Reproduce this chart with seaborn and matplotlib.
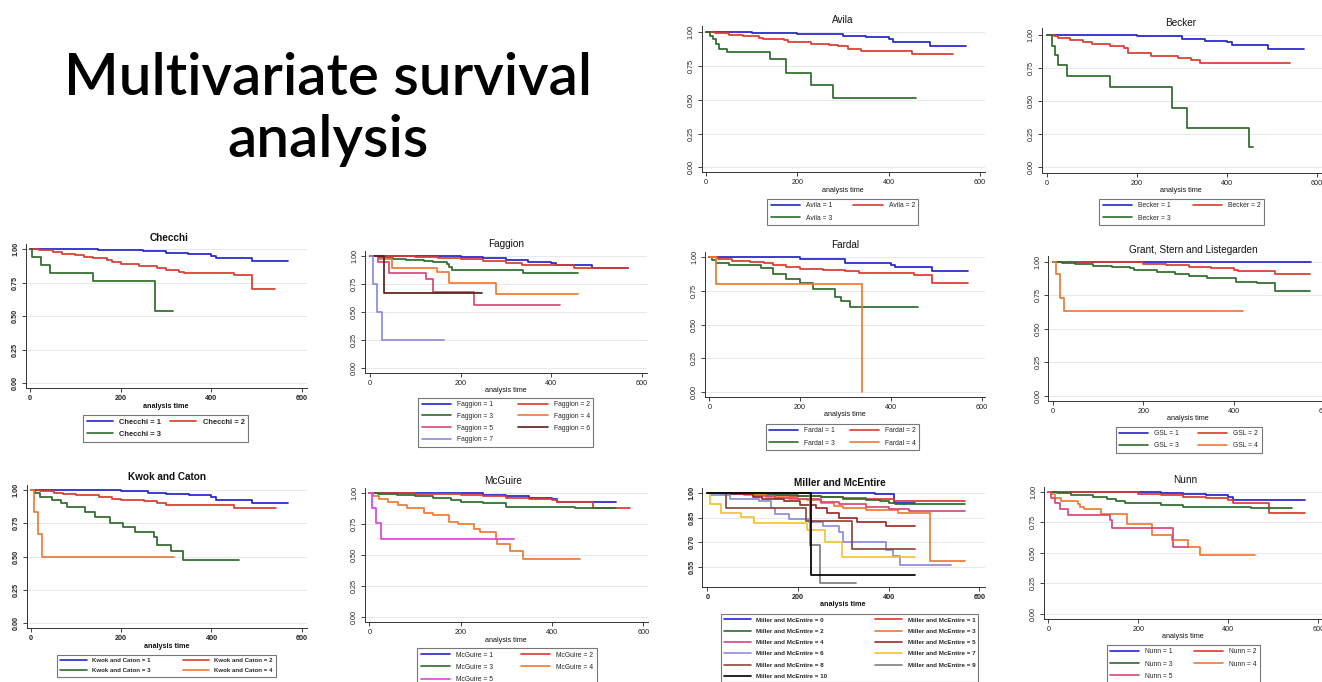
import matplotlib
matplotlib.use("Agg")
import matplotlib.pyplot as plt
from matplotlib.lines import Line2D
import pandas as pd
import seaborn as sns

# ===============================
# Kaplan-Meier step curves: (time, survival) change points,
# last pair = end of follow-up
# ===============================
avila_t = [[0, 100, 200, 250, 300, 350, 400, 410, 490, 570],
           [0, 20, 50, 80, 115, 125, 170, 180, 230, 270, 290, 310, 340, 450, 540],
           [0, 8, 15, 22, 28, 46, 140, 175, 231, 279, 460]]
avila_s = [[1, 0.997, 0.99, 0.985, 0.975, 0.965, 0.952, 0.93, 0.90, 0.90],
           [1, 0.993, 0.98, 0.97, 0.96, 0.95, 0.94, 0.925, 0.915, 0.905, 0.895, 0.875, 0.86, 0.84, 0.84],
           [1, 0.975, 0.95, 0.91, 0.88, 0.855, 0.80, 0.70, 0.61, 0.51, 0.51]]

becker_t = [[0, 200, 300, 350, 400, 410, 490, 570],
            [0, 15, 25, 50, 80, 100, 140, 170, 180, 230, 290, 320, 340, 540],
            [0, 12, 18, 25, 45, 140, 278, 310, 448, 457]]
becker_s = [[1, 0.99, 0.97, 0.955, 0.945, 0.925, 0.895, 0.895],
            [1, 0.99, 0.975, 0.96, 0.945, 0.93, 0.915, 0.90, 0.865, 0.84, 0.825, 0.81, 0.79, 0.79],
            [1, 0.92, 0.85, 0.77, 0.69, 0.605, 0.45, 0.30, 0.15, 0.15]]

checchi_t = [[0, 150, 250, 300, 350, 400, 410, 490, 570],
             [0, 20, 50, 70, 100, 120, 140, 170, 180, 200, 240, 280, 300, 330, 340, 450, 490, 540],
             [0, 5, 25, 45, 140, 277, 315]]
checchi_s = [[1, 0.995, 0.985, 0.97, 0.96, 0.95, 0.93, 0.91, 0.91],
             [1, 0.99, 0.98, 0.965, 0.955, 0.94, 0.93, 0.915, 0.90, 0.89, 0.875, 0.86, 0.845, 0.83, 0.82, 0.81, 0.70, 0.70],
             [1, 0.94, 0.88, 0.82, 0.76, 0.54, 0.54]]

faggion_t = [[0, 200, 250, 300, 350, 400, 410, 490, 570],
             [0, 100, 150, 200, 250, 300, 335, 450, 570],
             [0, 20, 50, 80, 120, 140, 170, 175, 180, 338, 460],
             [0, 18, 48, 147, 175, 278, 460],
             [0, 17, 43, 123, 140, 230, 420],
             [0, 31, 247],
             [0, 7, 16, 26, 164]]
faggion_s = [[1, 0.99, 0.98, 0.965, 0.95, 0.94, 0.92, 0.895, 0.895],
             [1, 0.995, 0.985, 0.97, 0.955, 0.935, 0.92, 0.89, 0.89],
             [1, 0.985, 0.975, 0.965, 0.955, 0.945, 0.925, 0.90, 0.875, 0.85, 0.85],
             [1, 0.97, 0.895, 0.86, 0.755, 0.66, 0.66],
             [1, 0.95, 0.85, 0.79, 0.68, 0.565, 0.565],
             [1, 0.665, 0.665],
             [1, 0.75, 0.50, 0.25, 0.25]]

fardal_t = [[0, 200, 300, 400, 410, 490, 570],
            [0, 20, 50, 90, 120, 140, 170, 200, 250, 300, 330, 450, 490, 570],
            [0, 7, 15, 44, 114, 141, 170, 200, 229, 277, 291, 310, 460],
            [0, 14, 337]]
fardal_s = [[1, 0.985, 0.96, 0.945, 0.925, 0.90, 0.90],
            [1, 0.99, 0.975, 0.965, 0.955, 0.94, 0.93, 0.915, 0.905, 0.895, 0.885, 0.87, 0.81, 0.81],
            [1, 0.98, 0.96, 0.94, 0.918, 0.876, 0.836, 0.806, 0.767, 0.707, 0.675, 0.633, 0.633],
            [1, 0.80, 0.0]]

gsl_t = [[0, 570],
         [0, 100, 200, 250, 300, 350, 400, 410, 490, 568],
         [0, 20, 50, 90, 130, 170, 180, 230, 270, 300, 340, 405, 450, 490, 568],
         [0, 7, 16, 25, 420]]
gsl_s = [[1, 1],
         [1, 0.995, 0.985, 0.975, 0.96, 0.95, 0.94, 0.93, 0.905, 0.905],
         [1, 0.99, 0.98, 0.97, 0.96, 0.95, 0.935, 0.925, 0.91, 0.895, 0.876, 0.85, 0.843, 0.784, 0.784],
         [1, 0.905, 0.726, 0.634, 0.634]]

kwok_t = [[0, 200, 260, 300, 350, 400, 410, 490, 570],
          [0, 20, 50, 70, 100, 150, 180, 200, 250, 280, 300, 450, 542],
          [0, 9, 20, 46, 66, 79, 120, 142, 175, 203, 230, 273, 280, 310, 338, 461],
          [0, 6, 16, 25, 317]]
kwok_s = [[1, 0.99, 0.98, 0.97, 0.96, 0.95, 0.925, 0.90, 0.90],
          [1, 0.99, 0.98, 0.97, 0.96, 0.95, 0.935, 0.925, 0.915, 0.905, 0.887, 0.867, 0.867],
          [1, 0.975, 0.95, 0.925, 0.90, 0.875, 0.837, 0.80, 0.75, 0.725, 0.683, 0.65, 0.588, 0.543, 0.475, 0.475],
          [1, 0.833, 0.668, 0.50, 0.50]]

mcguire_t = [[0, 200, 250, 300, 350, 400, 410, 541],
             [0, 100, 200, 250, 300, 350, 400, 410, 490, 571],
             [0, 20, 60, 100, 140, 180, 200, 250, 300, 450, 541],
             [0, 9, 22, 42, 63, 82, 120, 140, 175, 195, 230, 242, 277, 279, 308, 337, 461],
             [0, 7, 15, 26, 317]]
mcguire_s = [[1, 0.995, 0.985, 0.975, 0.96, 0.95, 0.922, 0.922],
             [1, 0.99, 0.98, 0.97, 0.96, 0.95, 0.94, 0.925, 0.874, 0.874],
             [1, 0.99, 0.98, 0.97, 0.955, 0.94, 0.925, 0.915, 0.887, 0.874, 0.874],
             [1, 0.973, 0.946, 0.927, 0.90, 0.874, 0.84, 0.82, 0.766, 0.745, 0.704, 0.68, 0.626, 0.583, 0.532, 0.465, 0.465],
             [1, 0.874, 0.753, 0.624, 0.624]]

miller_t = [[0, 330, 370, 400, 412, 458],
            [0, 30, 80, 130, 180, 250, 300, 350, 400, 412, 568],
            [0, 50, 100, 150, 200, 250, 300, 350, 380, 400, 415, 568],
            [0, 30, 80, 130, 180, 220, 250, 280, 300, 350, 420, 492, 568],
            [0, 30, 100, 150, 200, 250, 290, 350, 400, 445, 568],
            [0, 50, 100, 120, 170, 205, 240, 265, 290, 330, 395, 458],
            [0, 7, 50, 115, 140, 150, 180, 225, 255, 290, 300, 395, 410, 425, 538],
            [0, 5, 30, 75, 102, 220, 260, 298, 458],
            [0, 42, 217, 320, 458],
            [0, 226, 249, 328],
            [0, 229, 458]]
miller_s = [[1, 0.997, 0.993, 0.99, 0.94, 0.94],
            [1, 0.995, 0.99, 0.985, 0.98, 0.975, 0.97, 0.965, 0.96, 0.952, 0.952],
            [1, 0.995, 0.99, 0.985, 0.98, 0.975, 0.965, 0.955, 0.948, 0.94, 0.93, 0.93],
            [1, 0.995, 0.985, 0.975, 0.965, 0.955, 0.94, 0.92, 0.905, 0.895, 0.875, 0.585, 0.585],
            [1, 0.99, 0.98, 0.97, 0.96, 0.945, 0.93, 0.915, 0.90, 0.89, 0.89],
            [1, 0.99, 0.975, 0.965, 0.95, 0.925, 0.905, 0.88, 0.85, 0.825, 0.80, 0.80],
            [1, 0.985, 0.965, 0.95, 0.91, 0.87, 0.84, 0.825, 0.80, 0.76, 0.70, 0.655, 0.62, 0.562, 0.562],
            [1, 0.93, 0.875, 0.855, 0.815, 0.772, 0.70, 0.61, 0.61],
            [1, 0.908, 0.828, 0.658, 0.658],
            [1, 0.685, 0.458, 0.458],
            [1, 0.505, 0.505]]

nunn_t = [[0, 200, 250, 300, 350, 400, 410, 570],
          [0, 100, 200, 250, 300, 350, 400, 410, 490, 570],
          [0, 20, 50, 100, 130, 150, 170, 250, 300, 450, 541],
          [0, 7, 15, 28, 65, 70, 80, 118, 174, 230, 274, 311, 337, 459],
          [0, 7, 15, 26, 44, 137, 142, 278, 311]]
nunn_s = [[1, 0.995, 0.99, 0.98, 0.97, 0.96, 0.932, 0.932],
          [1, 0.995, 0.985, 0.97, 0.955, 0.945, 0.932, 0.91, 0.823, 0.823],
          [1, 0.99, 0.97, 0.955, 0.94, 0.925, 0.91, 0.89, 0.877, 0.864, 0.864],
          [1, 0.978, 0.945, 0.924, 0.896, 0.877, 0.855, 0.815, 0.733, 0.65, 0.605, 0.55, 0.482, 0.482],
          [1, 0.945, 0.905, 0.855, 0.81, 0.77, 0.70, 0.55, 0.55]]

# group codes shown in the legends
groups_3 = ["1", "2", "3"]
groups_4 = ["1", "2", "3", "4"]
groups_5 = ["1", "2", "3", "4", "5"]
groups_7 = ["1", "2", "3", "4", "5", "6", "7"]
groups_miller = [str(i) for i in range(11)]

# ===============================
# Stata-like colours
# ===============================
BLUE, RED, GREEN, ORANGE = "#2424CC", "#D93A30", "#2F6B2C", "#EE7A33"
PINK, LAVENDER, DKMAROON = "#D9477B", "#8B8BDA", "#5A1E1E"
MAGENTA, MAROON, YELLOW = "#DE44DE", "#9B2B2B", "#F2C232"
BROWN, GRAY, BLACK = "#8C4A3A", "#808080", "#000000"

W, H = 1322, 682
sns.set_theme(style="white")
plt.rcParams["font.family"] = ["Liberation Sans", "DejaVu Sans"]

fig = plt.figure(figsize=(W / 100, H / 100), dpi=100)
fig.patch.set_facecolor("white")

# panel layout in pixels: axes box (l, t, r, b), x pixel of t=0 / t=600,
# two y references (pixel, value), title / xlabel centres, legend box
panels = [
    dict(title="Avila", lab="Avila", t=avila_t, s=avila_s, g=groups_3, c=[BLUE, RED, GREEN],
         box=(701.7, 26, 985, 172), x0=706, x6=980, ya=(32.3, 1.0), yb=(167.3, 0.0),
         ttl=(842.7, 20), xl=(843, 191), leg=(767.3, 199, 918.3, 223), bold=False, fs=4.9,
         hl=4.3, ls=0.75),
    dict(title="Becker", lab="Becker", t=becker_t, s=becker_s, g=groups_3, c=[BLUE, RED, GREEN],
         box=(1041.7, 28, 1330, 172.7), x0=1047, x6=1317, ya=(35, 1.0), yb=(167.3, 0.0),
         ttl=(1180.7, 23.3), xl=(1181, 190.7), leg=(1099.3, 199, 1264, 222.7), bold=False, fs=4.9,
         hl=4.3, ls=0.75),
    dict(title="Checchi", lab="Checchi", t=checchi_t, s=checchi_s, g=groups_3, c=[BLUE, RED, GREEN],
         box=(26, 244, 306.7, 388.3), x0=30, x6=301.7, ya=(249, 1.0), yb=(383.3, 0.0),
         ttl=(169.3, 237.7), xl=(166, 406), leg=(83.3, 415, 248.3, 438.3), bold=True, fs=5.4,
         hl=3.4, ls=0.6),
    dict(title="Faggion", lab="Faggion", t=faggion_t, s=faggion_s, g=groups_7,
         c=[BLUE, RED, GREEN, ORANGE, PINK, DKMAROON, LAVENDER],
         box=(365, 251, 646.7, 372.7), x0=370, x6=641.7, ya=(256, 1.0), yb=(367.7, 0.0),
         ttl=(506, 244.3), xl=(506, 390.7), leg=(418.3, 397.7, 593.3, 445), bold=False, fs=4.9,
         hl=4.3, ls=0.7),
    dict(title="Fardal", lab="Fardal", t=fardal_t, s=fardal_s, g=groups_4, c=[BLUE, RED, GREEN, ORANGE],
         box=(705, 252, 985, 396.7), x0=709.3, x6=981.7, ya=(257.3, 1.0), yb=(391.7, 0.0),
         ttl=(845.3, 245), xl=(845.3, 414.3), leg=(765.7, 424, 919.3, 447.7), bold=False, fs=4.9,
         hl=4.3, ls=0.75),
    dict(title="Grant, Stern and Listegarden", lab="GSL", t=gsl_t, s=gsl_s, g=groups_4,
         c=[BLUE, RED, GREEN, ORANGE],
         box=(1048.3, 256, 1330, 401), x0=1052.7, x6=1324.5, ya=(261.7, 1.0), yb=(395.7, 0.0),
         ttl=(1193.3, 250), xl=(1188.3, 418.3), leg=(1115.7, 426.7, 1261.7, 452.3), bold=False, fs=4.9,
         hl=4.3, ls=0.75),
    dict(title="Kwok and Caton", lab="Kwok and Caton", t=kwok_t, s=kwok_s, g=groups_4,
         c=[BLUE, RED, GREEN, ORANGE],
         box=(26.7, 485, 306.7, 628.3), x0=31, x6=301.7, ya=(490, 1.0), yb=(623.3, 0.0),
         ttl=(166.7, 476.7), xl=(166.7, 646), leg=(57.3, 655, 276, 680), bold=True, fs=4.4,
         hl=4.3, ls=0.8),
    dict(title="McGuire", lab="McGuire", t=mcguire_t, s=mcguire_s, g=groups_5,
         c=[BLUE, RED, GREEN, ORANGE, MAGENTA],
         box=(365, 488, 648, 622.3), x0=369.3, x6=643.3, ya=(492.7, 1.0), yb=(616.7, 0.0),
         ttl=(503.3, 480.7), xl=(506, 640), leg=(417.3, 648.3, 596.7, 690), bold=False, fs=4.9,
         hl=4.3, ls=0.75),
    dict(title="Miller and McEntire", lab="Miller and McEntire", t=miller_t, s=miller_s, g=groups_miller,
         c=[BLUE, RED, GREEN, ORANGE, PINK, MAROON, LAVENDER, YELLOW, BROWN, GRAY, BLACK],
         box=(702.3, 488, 985, 587.3), x0=707.3, x6=979.3, ya=(492.7, 1.0), yb=(567.3, 0.55),
         ttl=(840, 482.7), xl=(842.7, 605), leg=(720.7, 614, 978.3, 700), bold=True, fs=4.5,
         hl=4.3, ls=0.95),
    dict(title="Nunn", lab="Nunn", t=nunn_t, s=nunn_s, g=groups_5, c=[BLUE, RED, GREEN, ORANGE, PINK],
         box=(1044, 487, 1330, 619.3), x0=1048.3, x6=1318.3, ya=(491.7, 1.0), yb=(614, 0.0),
         ttl=(1185, 480), xl=(1183.3, 636.7), leg=(1106.7, 645, 1260, 681.7), bold=False, fs=4.9,
         hl=4.3, ls=0.75),
]


def fx(px):
    return px / W


def fy(py):
    return 1 - py / H


for p in panels:
    l, t, r, b = p["box"]
    ax = fig.add_axes([fx(l), fy(b), (r - l) / W, (b - t) / H])
    weight = "bold" if p["bold"] else "normal"

    # long table for seaborn
    rows = []
    for code, ts, ss in zip(p["g"], p["t"], p["s"]):
        label = f"{p['lab']} = {code}"
        for tt, sv in zip(ts, ss):
            rows.append((label, tt, sv))
    df = pd.DataFrame(rows, columns=["group", "time", "surv"])
    labels = [f"{p['lab']} = {code}" for code in p["g"]]

    sns.lineplot(data=df, x="time", y="surv", hue="group", hue_order=labels,
                 palette=p["c"], estimator=None, sort=False, drawstyle="steps-post",
                 linewidth=1.25, legend=False, ax=ax)

    # scales from pixel references
    sx = (p["x6"] - p["x0"]) / 600
    ax.set_xlim((l - p["x0"]) / sx, (r - p["x0"]) / sx)
    (pa, va), (pb, vb) = p["ya"], p["yb"]
    sy = (pb - pa) / (va - vb)
    ax.set_ylim(va - (b - pa) / sy, va - (t - pa) / sy)

    if p["lab"] == "Miller and McEntire":
        yt = [0.55, 0.70, 0.85, 1.00]
    else:
        yt = [0.0, 0.25, 0.50, 0.75, 1.00]
    ax.set_yticks(yt)
    ax.set_yticklabels([f"{v:.2f}" for v in yt], rotation=90, va="center",
                       fontsize=5.2, fontweight=weight)
    ax.set_xticks([0, 200, 400, 600])
    ax.set_xticklabels(["0", "200", "400", "600"], fontsize=5.2, fontweight=weight)
    ax.set_xlabel("")
    ax.set_ylabel("")
    ax.tick_params(axis="both", direction="out", length=3, width=0.6, pad=2,
                   colors="#222222", bottom=True, left=True)
    ax.yaxis.grid(True, color="#E4E9EE", linewidth=0.7)
    ax.xaxis.grid(False)
    ax.set_axisbelow(True)
    for side in ["top", "right"]:
        ax.spines[side].set_visible(False)
    for side in ["left", "bottom"]:
        ax.spines[side].set_color("#333333")
        ax.spines[side].set_linewidth(0.7)
    ax.patch.set_alpha(0)

    fig.text(fx(p["ttl"][0]), fy(p["ttl"][1]), p["title"], ha="center", va="center",
             fontsize=7.2, fontweight=weight, color="#111111")
    fig.text(fx(p["xl"][0]), fy(p["xl"][1]), "analysis time", ha="center", va="center",
             fontsize=5.2, fontweight=weight, color="#111111")

    # legend, filled row by row like Stata
    handles = [Line2D([], [], color=c, lw=1.2) for c in p["c"]]
    order = list(range(0, len(labels), 2)) + list(range(1, len(labels), 2))
    ll, lt, lr, lb = p["leg"]
    leg = ax.legend([handles[i] for i in order], [labels[i] for i in order], ncol=2,
                    loc="upper left", mode="expand",
                    bbox_to_anchor=(fx(ll), fy(lb), (lr - ll) / W, (lb - lt) / H),
                    bbox_transform=fig.transFigure, borderaxespad=0,
                    prop=dict(size=p["fs"], weight=weight), handlelength=p["hl"],
                    handletextpad=0.9, labelspacing=p["ls"], borderpad=0.5,
                    columnspacing=0.8, frameon=True, fancybox=False, edgecolor="#555555")
    leg.get_frame().set_linewidth(0.8)

# slide title
fig.text(fx(328), fy(95), "Multivariate survival", ha="center", va="baseline",
         fontsize=42, family="Lato", fontweight="semibold", color="#000000")
fig.text(fx(328), fy(157), "analysis", ha="center", va="baseline",
         fontsize=42, family="Lato", fontweight="semibold", color="#000000")

fig.savefig("out.png", dpi=100, facecolor="white")
